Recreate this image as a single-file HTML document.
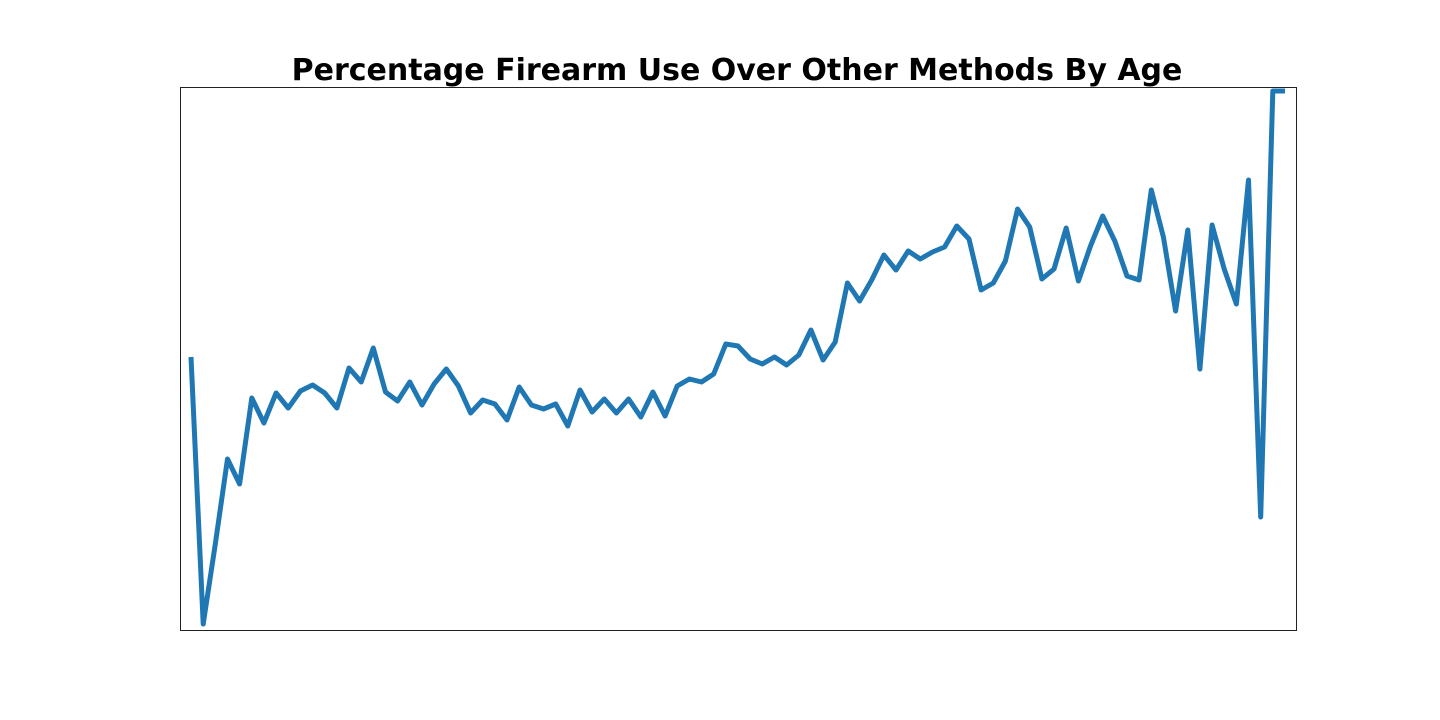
<!DOCTYPE html>
<html><head><meta charset="utf-8"><style>
html,body{margin:0;padding:0;background:#fff;width:1440px;height:720px;overflow:hidden}
svg{display:block}
</style></head><body>
<svg id="chart" width="1440" height="720">
<text x="737" y="80" text-anchor="middle" font-family="'DejaVu Sans', sans-serif" font-weight="bold" font-size="30">Percentage Firearm Use Over Other Methods By Age</text>
<rect x="180.5" y="87.5" width="1116" height="543" fill="none" stroke="#222" stroke-width="1"/>
</svg>
<script>
const values = [273,6,86,171,146,232,207,237,222,239,245,237,222,262,248,282,238,229,248,225,246,261,244,217,230,226,210,243,225,221,226,204,240,218,231,217,231,213,238,214,244,251,248,256,286,284,271,266,273,265,275,300,270,288,347,329,350,375,360,379,371,378,383,404,391,340,347,369,421,403,351,361,402,349,384,414,389,354,350,440,393,319,400,261,405,361,326,450,113,539,539];
const yDomain = [0, 543];
const ages = values.map((v,i)=>i);
function xScale(i){ return 191 + i*(1094/(values.length-1)); }
function yScale(v){ return 630 - (v - yDomain[0])/(yDomain[1]-yDomain[0])*543; }
const svg = document.getElementById('chart');
const p = document.createElementNS('http://www.w3.org/2000/svg','path');
p.setAttribute('d', values.map((v,i)=>(i?'L':'M')+xScale(ages[i]).toFixed(1)+','+yScale(v).toFixed(1)).join(''));
p.setAttribute('fill','none');
p.setAttribute('stroke','#1f77b4');
p.setAttribute('stroke-width','5');
p.setAttribute('stroke-linejoin','round');


svg.appendChild(p);
</script>
</body></html>
